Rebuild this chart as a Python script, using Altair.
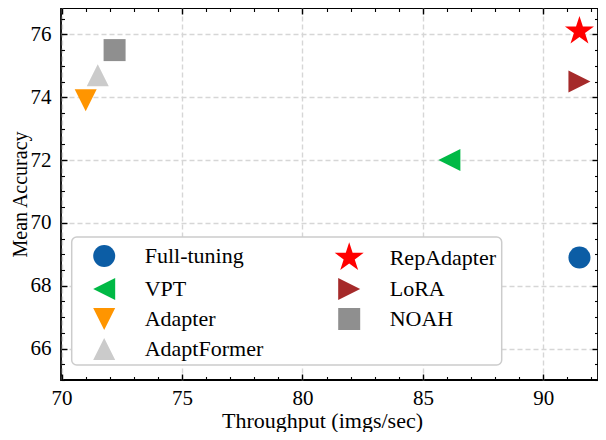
import math
import altair as alt
import pandas as pd

# ---- data ----
methods = ["Full-tuning", "VPT", "Adapter", "AdaptFormer", "RepAdapter", "LoRA", "NOAH"]
throughput = [91.5, 86.1, 71.0, 71.5, 91.5, 91.5, 72.2]
accuracy = [68.9, 72.0, 73.9, 74.7, 76.1, 74.5, 75.5]

x_major = [70, 75, 80, 85, 90]
x_minor = [71, 72, 73, 74, 76, 77, 78, 79, 81, 82, 83, 84, 86, 87, 88, 89, 91, 92]
y_major = [66, 68, 70, 72, 74, 76]
y_minor = [65, 65.5, 66.5, 67, 67.5, 68.5, 69, 69.5, 70.5, 71, 71.5, 72.5, 73, 73.5,
           74.5, 75, 75.5, 76.5]

# ---- styles ----
colors = ["#0C5DA5", "#00B945", "#FF9500", "#CBCBCB", "#FF0000", "#A52A2A", "#8F8F8F"]


def star_path(inner=0.382):
    pts = []
    for k in range(10):
        r = 1.0 if k % 2 == 0 else inner
        a = math.radians(-90 + 36 * k)
        pts.append(f"{r*math.cos(a):.4f},{r*math.sin(a):.4f}")
    return "M" + "L".join(pts) + "Z"


shapes = [
    "circle",
    "M-1,0L1,-1L1,1Z",        # triangle left
    "M0,1L1,-1L-1,-1Z",       # triangle down
    "M0,-1L1,1L-1,1Z",        # triangle up
    star_path(),
    "M1,0L-1,-1L-1,1Z",       # triangle right
    "M-1,-1L1,-1L1,1L-1,1Z",  # square
]
sizes = [484, 484, 484, 484, 930, 484, 484]

FONT = "Liberation Serif"

df = pd.DataFrame({"method": methods, "thr": throughput, "acc": accuracy})

xscale = alt.Scale(domain=[69.975, 92.27], nice=False, zero=False)
yscale = alt.Scale(domain=[65, 76.84], nice=False, zero=False)

main = alt.Chart(df).mark_point(filled=True, opacity=1, strokeWidth=0).encode(
    x=alt.X("thr:Q", scale=xscale, axis=alt.Axis(
        orient="bottom", values=x_major, ticks=False, domain=False, grid=True,
        gridDash=[5, 3], gridColor="#d6d6d6", gridWidth=1.4,
        labelFont=FONT, labelFontSize=21, labelColor="black", labelPadding=7,
        labelFlush=False,
        title="Throughput (imgs/sec)", titleFont=FONT, titleFontSize=22,
        titleFontWeight="normal", titleColor="black",
        titleX=261, titleY=47, titleBaseline="alphabetic")),
    y=alt.Y("acc:Q", scale=yscale, axis=alt.Axis(
        orient="left", values=y_major, ticks=False, domain=False, grid=True,
        gridDash=[5, 3], gridColor="#d6d6d6", gridWidth=1.4,
        labelFont=FONT, labelFontSize=21, labelColor="black", labelPadding=10,
        labelFlush=False,
        title="Mean Accuracy", titleFont=FONT, titleFontSize=20,
        titleFontWeight="normal", titleColor="black",
        titleX=-41, titleY=186, titleBaseline="middle")),
    color=alt.Color("method:N", scale=alt.Scale(domain=methods, range=colors),
                    sort=methods, legend=alt.Legend(title=None)),
    shape=alt.Shape("method:N", scale=alt.Scale(domain=methods, range=shapes),
                    sort=methods, legend=alt.Legend(title=None)),
    size=alt.Size("method:N", scale=alt.Scale(type="ordinal", domain=methods, range=sizes),
                  sort=methods, legend=alt.Legend(title=None)),
)


def tick_layer(xaxis, yaxis):
    return alt.Chart(df).mark_point(opacity=0).encode(
        x=alt.X("thr:Q", scale=xscale, axis=xaxis),
        y=alt.Y("acc:Q", scale=yscale, axis=yaxis),
    )


def tax(orient, values, size, width):
    return alt.Axis(orient=orient, values=values, offset=-size, tickSize=size,
                    ticks=True, labels=False, domain=False, grid=False, title=None,
                    tickColor="black", tickWidth=width)


layers = [
    main,
    tick_layer(tax("bottom", x_major, 6, 1.4), tax("left", y_major, 6, 1.4)),
    tick_layer(tax("bottom", x_minor, 3.5, 1.1), tax("left", y_minor, 3.5, 1.1)),
    tick_layer(tax("top", x_major, 6, 1.4), tax("right", y_major, 6, 1.4)),
    tick_layer(tax("top", x_minor, 3.5, 1.1), tax("right", y_minor, 3.5, 1.1)),
]

chart = alt.layer(*layers).resolve_axis(x="independent", y="independent").properties(
    width=537, height=372,
    autosize=alt.AutoSizeParams(type="none"),
    padding={"left": 53, "top": 0, "right": 0, "bottom": 52},
).configure_view(stroke="black", strokeWidth=1.8).configure_legend(
    orient="none", legendX=10.7, legendY=229, columns=2,
    fillColor="white", strokeColor="#cccccc", strokeWidth=1.5, cornerRadius=5,
    padding=5, symbolOffset=12, labelOffset=25, columnPadding=58, rowPadding=8,
    labelFont=FONT, labelFontSize=22, labelColor="black", symbolStrokeWidth=0,
    symbolOpacity=1,
)

chart.save("out.html", embed_options={"renderer": "svg", "actions": False})
